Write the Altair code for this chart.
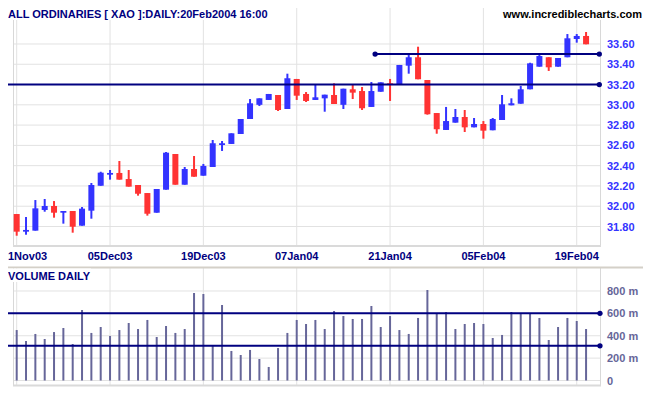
import altair as alt
import pandas as pd

# ---- data (ALL ORDINARIES daily, 21 Nov 2003 - 20 Feb 2004) ----
opens = [31.923, 31.749, 31.759, 31.963, 32.002, 31.936, 31.953, 31.808, 31.956, 32.202,
         32.311, 32.328, 32.268, 32.209, 32.130, 31.936, 32.163, 32.515, 32.212, 32.367,
         32.301, 32.387, 32.604, 32.614, 32.712, 32.860, 33.000, 33.048, 33.097, 32.959,
         33.255, 33.107, 33.048, 33.064, 33.097, 33.000, 33.153, 33.136, 32.979, 33.129,
         33.212, 33.205, 33.386, 33.469, 33.245, 32.919, 32.752, 32.824, 32.880, 32.778,
         32.811, 32.749, 32.850, 32.995, 33.011, 33.153, 33.376, 33.469, 33.376, 33.469,
         33.649, 33.679]
highs = [31.923, 31.894, 32.061, 32.071, 32.051, 31.953, 31.953, 31.992, 32.229, 32.340,
         32.357, 32.446, 32.357, 32.209, 32.130, 32.170, 32.535, 32.515, 32.387, 32.495,
         32.417, 32.653, 32.643, 32.719, 32.860, 33.057, 33.064, 33.107, 33.097, 33.307,
         33.255, 33.126, 33.198, 33.100, 33.212, 33.159, 33.205, 33.176, 33.225, 33.222,
         33.255, 33.393, 33.491, 33.573, 33.245, 32.919, 32.979, 32.959, 32.949, 32.870,
         32.840, 32.870, 33.097, 33.064, 33.186, 33.415, 33.508, 33.469, 33.462, 33.698,
         33.698, 33.718]
lows = [31.709, 31.719, 31.759, 31.946, 31.887, 31.828, 31.739, 31.808, 31.877, 32.202,
        32.262, 32.262, 32.193, 32.104, 31.907, 31.936, 32.163, 32.212, 32.212, 32.291,
        32.301, 32.387, 32.545, 32.614, 32.712, 32.860, 32.988, 33.048, 32.939, 32.959,
        33.048, 33.028, 33.048, 32.932, 33.008, 32.959, 33.057, 32.949, 32.979, 33.129,
        33.038, 33.205, 33.307, 33.252, 32.903, 32.715, 32.752, 32.824, 32.732, 32.778,
        32.666, 32.749, 32.850, 32.995, 33.011, 33.153, 33.376, 33.334, 33.376, 33.469,
        33.613, 33.597]
closes = [31.749, 31.766, 31.979, 32.002, 31.936, 31.953, 31.798, 31.976, 32.209, 32.331,
          32.328, 32.262, 32.193, 32.123, 31.926, 32.170, 32.528, 32.212, 32.367, 32.291,
          32.397, 32.621, 32.621, 32.719, 32.860, 33.015, 33.064, 33.107, 32.949, 33.262,
          33.090, 33.038, 33.074, 33.100, 33.008, 33.159, 33.120, 32.966, 33.136, 33.222,
          33.195, 33.393, 33.469, 33.252, 32.907, 32.759, 32.840, 32.880, 32.778, 32.811,
          32.745, 32.860, 33.005, 33.015, 33.153, 33.409, 33.481, 33.370, 33.462, 33.656,
          33.679, 33.597]
volumes = [451, 353, 416, 371, 433, 469, 326, 630, 425, 478,
           398, 451, 514, 460, 541, 389, 487, 425, 460, 782,
           773, 308, 675, 264, 228, 273, 192, 121, 290, 425,
           541, 505, 541, 460, 621, 576, 550, 550, 666, 478,
           576, 451, 416, 559, 809, 603, 612, 460, 505, 514,
           505, 380, 407, 612, 594, 603, 559, 362, 478, 559,
           532, 460]

date_tick_idx = [0, 10, 20, 30, 40, 50, 60]
date_tick_labels = ["1Nov03", "05Dec03", "19Dec03", "07Jan04", "21Jan04", "05Feb04", "19Feb04"]
price_ticks = [31.8, 32.0, 32.2, 32.4, 32.6, 32.8, 33.0, 33.2, 33.4, 33.6]
price_tick_labels = ["31.80", "32.00", "32.20", "32.40", "32.60", "32.80", "33.00", "33.20", "33.40", "33.60"]
vol_ticks = [0, 200, 400, 600, 800]
vol_tick_labels = ["0", "200 m", "400 m", "600 m", "800 m"]

price_line_level = [33.20, 33.50]
price_line_start = [-1.8, 38.4]
price_line_end = [62.42, 62.42]
vol_line_level = [600, 310]
vol_line_start = [-1.8, -1.8]
vol_line_end = [62.49, 62.49]

title_text = "ALL ORDINARIES [ XAO ]:DAILY:20Feb2004 16:00"
site_text = "www.incrediblecharts.com"
vol_title = "VOLUME DAILY"

# ---- layout / style ----
W, H = 588, 378
PRICE_BOTTOM = 238
VOL_TOP = 260
NAVY = "#000080"
UP, DOWN = "#3333FF", "#FF3333"
GRID = "#e2e2e2"
FONT = "Liberation Sans"

xs = alt.Scale(domain=[-0.396, 62.6], nice=False, zero=False)
ps = alt.Scale(domain=[31.6077, 33.9548], range=[PRICE_BOTTOM, 0], nice=False, zero=False)
vs = alt.Scale(domain=[-49.15, 1005.4], range=[H, VOL_TOP], nice=False, zero=False)

candles = pd.DataFrame({"i": list(range(len(opens))), "open": opens, "high": highs,
                        "low": lows, "close": closes, "vol": volumes})
candles["dir"] = ["up" if c >= o else "down" for o, c in zip(opens, closes)]
dticks = pd.DataFrame({"i": date_tick_idx, "label": date_tick_labels})
pticks = pd.DataFrame({"v": price_ticks, "label": price_tick_labels})
vticks = pd.DataFrame({"v": vol_ticks, "label": vol_tick_labels})
plines = pd.DataFrame({"lvl": price_line_level, "s": price_line_start, "e": price_line_end})
pdots = pd.DataFrame({"lvl": [33.20, 33.50, 33.50], "x": [62.42, 62.42, 38.4]})
vlines = pd.DataFrame({"lvl": vol_line_level, "s": vol_line_start, "e": vol_line_end})
vdots = pd.DataFrame({"lvl": vol_line_level, "x": vol_line_end})
one = pd.DataFrame({"k": [0]})

X = lambda f: alt.X(f, scale=xs, axis=None)
PY = lambda f: alt.Y(f, scale=ps, axis=None)
VY = lambda f: alt.Y(f, scale=vs, axis=None)
col = alt.Color("dir:N", scale=alt.Scale(domain=["up", "down"], range=[UP, DOWN]), legend=None)

layers = []
# grid
layers.append(alt.Chart(pticks).mark_rule(color=GRID, strokeWidth=1).encode(
    x=alt.value(0), x2=alt.value(W), y=PY("v:Q")))
layers.append(alt.Chart(vticks).mark_rule(color=GRID, strokeWidth=1).encode(
    x=alt.value(0), x2=alt.value(W), y=VY("v:Q")))
layers.append(alt.Chart(dticks).mark_rule(color=GRID, strokeWidth=1).encode(
    x=X("i:Q"), y=alt.value(0), y2=alt.value(PRICE_BOTTOM)))
layers.append(alt.Chart(dticks).mark_rule(color=GRID, strokeWidth=1).encode(
    x=X("i:Q"), y=alt.value(VOL_TOP), y2=alt.value(H)))
# panel borders
for x0 in (0.5, W - 0.5):
    layers.append(alt.Chart(one).mark_rule(color="#d8d8d8", strokeWidth=1).encode(
        x=alt.value(x0), y=alt.value(0), y2=alt.value(PRICE_BOTTOM)))
    layers.append(alt.Chart(one).mark_rule(color="#d8d8d8", strokeWidth=1).encode(
        x=alt.value(x0), y=alt.value(VOL_TOP), y2=alt.value(H)))
for y0 in (PRICE_BOTTOM, H - 0.5):
    layers.append(alt.Chart(one).mark_rule(color="#dadada", strokeWidth=2).encode(
        x=alt.value(0), x2=alt.value(W), y=alt.value(y0)))
layers.append(alt.Chart(one).mark_rule(color="#d4d0c8", strokeWidth=2).encode(
    x=alt.value(-5), x2=alt.value(640), y=alt.value(VOL_TOP - 0.5)))
layers.append(alt.Chart(one).mark_rect(color="white").encode(
    x=alt.value(-5), x2=alt.value(78), y=alt.value(VOL_TOP + 0.5), y2=alt.value(VOL_TOP + 14)))
# title backgrounds
layers.append(alt.Chart(one).mark_rect(color="white").encode(
    x=alt.value(-5), x2=alt.value(270), y=alt.value(0), y2=alt.value(12)))
layers.append(alt.Chart(one).mark_rect(color="white").encode(
    x=alt.value(480), x2=alt.value(635), y=alt.value(0), y2=alt.value(12)))
# candles
layers.append(alt.Chart(candles).mark_rule(strokeWidth=2).encode(
    x=X("i:Q"), y=PY("low:Q"), y2="high:Q", color=col))
layers.append(alt.Chart(candles).mark_rule(strokeWidth=6).encode(
    x=X("i:Q"), y=PY("open:Q"), y2="close:Q", color=col))
# volume
layers.append(alt.Chart(candles).mark_rule(strokeWidth=2, color="#666699").encode(
    x=X("i:Q"), y=VY("vol:Q"), y2=alt.datum(0)))
# support / reference lines
layers.append(alt.Chart(plines).mark_rule(strokeWidth=2, color=NAVY).encode(
    x=X("s:Q"), x2="e:Q", y=PY("lvl:Q")))
layers.append(alt.Chart(pdots).mark_circle(size=28, color=NAVY, opacity=1).encode(
    x=X("x:Q"), y=PY("lvl:Q")))
layers.append(alt.Chart(vlines).mark_rule(strokeWidth=2, color=NAVY).encode(
    x=X("s:Q"), x2="e:Q", y=VY("lvl:Q")))
layers.append(alt.Chart(vdots).mark_circle(size=28, color=NAVY, opacity=1).encode(
    x=X("x:Q"), y=VY("lvl:Q")))
# texts
txt = dict(font=FONT, fontWeight="bold", fontSize=11)
layers.append(alt.Chart(pticks).mark_text(align="left", baseline="middle", dy=1, color="#3333FF", **txt).encode(
    x=alt.value(W + 6), y=PY("v:Q"), text="label:N"))
layers.append(alt.Chart(vticks).mark_text(align="left", baseline="middle", dy=1, color="#666699", **txt).encode(
    x=alt.value(W + 6), y=VY("v:Q"), text="label:N"))
layers.append(alt.Chart(dticks.iloc[1:]).mark_text(align="center", baseline="alphabetic", color=NAVY, **txt).encode(
    x=X("i:Q"), y=alt.value(252.3), text="label:N"))
layers.append(alt.Chart(dticks.iloc[:1]).mark_text(align="left", baseline="alphabetic", color=NAVY, **txt).encode(
    x=alt.value(-5), y=alt.value(252.3), text="label:N"))
layers.append(alt.Chart(one).mark_text(align="left", baseline="top", color=NAVY, text=title_text, **txt).encode(
    x=alt.value(-5), y=alt.value(1)))
layers.append(alt.Chart(one).mark_text(align="right", baseline="top", color="black", text=site_text, **txt).encode(
    x=alt.value(629), y=alt.value(1)))
layers.append(alt.Chart(one).mark_text(align="left", baseline="alphabetic", color=NAVY, text=vol_title, **txt).encode(
    x=alt.value(-5), y=alt.value(VOL_TOP + 12)))

chart = alt.layer(*layers).resolve_scale(y="independent").properties(
    width=W, height=H,
    autosize=alt.AutoSizeParams(type="none"),
    padding={"left": 5, "top": 0, "right": 42, "bottom": 1},
).configure_view(strokeWidth=0)

chart.save("out.html", embed_options={"renderer": "svg", "actions": False})
